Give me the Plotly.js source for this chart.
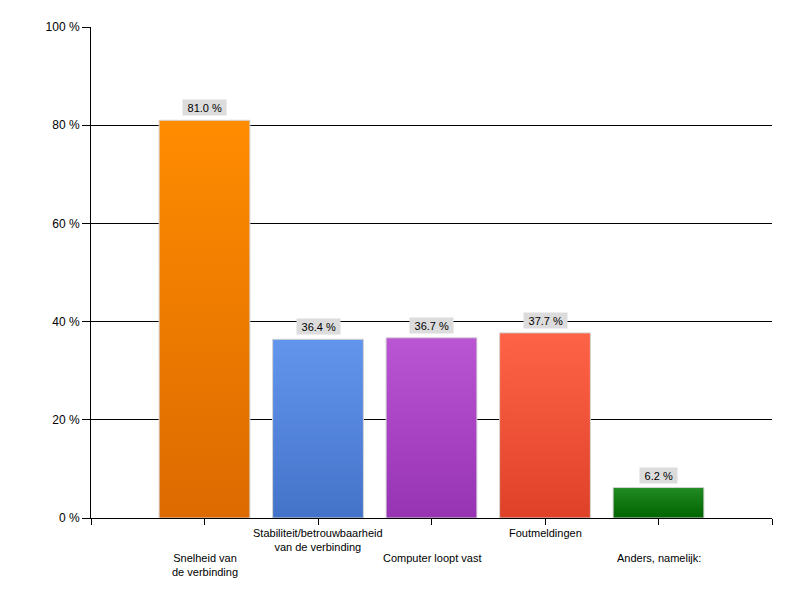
<!DOCTYPE html>
<html>
<head>
<meta charset="utf-8">
<script src="https://cdn.plot.ly/plotly-3.0.1.min.js"></script>
<style>html,body{margin:0;padding:0;background:#fff;}#chart{width:800px;height:600px;}</style>
</head>
<body>
<div id="chart"></div>
<script>
const categories = ["Snelheid van<br>de verbinding", "Stabiliteit/betrouwbaarheid<br>van de verbinding", "Computer loopt vast", "Foutmeldingen", "Anders, namelijk:"];
const values = [81.0, 36.4, 36.7, 37.7, 6.2];
const colorsTop = ["#FF8C00", "#6495ED", "#BA55D3", "#FF6347", "#228B22"];
const colorsBottom = ["#DC6A00", "#4373C9", "#9734B4", "#DE4128", "#006400"];
const yTicks = [0, 20, 40, 60, 80, 100];
const yTickText = ["0 %", "20 %", "40 %", "60 %", "80 %", "100 %"];

const positions = categories.map((c, i) => i + 1);
const font = "Liberation Sans, Arial, sans-serif";

const trace = {
  type: "bar",
  x: positions,
  y: values,
  width: 0.8,
  marker: {
    color: colorsTop,
    line: {color: "#D3D3D3", width: 1}
  },
  hoverinfo: "none"
};

const annotations = [];
values.forEach((v, i) => {
  annotations.push({
    x: positions[i], y: v, xref: "x", yref: "y",
    text: "\u00a0" + v.toFixed(1) + " %\u00a0",
    showarrow: false, yanchor: "bottom", yshift: 4,
    bgcolor: "#DCDCDC", borderpad: 1.5,
    font: {family: font, size: 11, color: "#000"}
  });
});
categories.forEach((c, i) => {
  annotations.push({
    x: positions[i], y: 0, xref: "x", yref: "paper",
    text: c, showarrow: false, yanchor: "top", xanchor: "center",
    yshift: (i % 2 === 0) ? -32 : -7,
    font: {family: font, size: 11, color: "#000"}
  });
});

const layout = {
  width: 800, height: 600,
  margin: {l: 91, r: 28, t: 27, b: 82},
  paper_bgcolor: "#fff", plot_bgcolor: "#fff",
  showlegend: false,
  bargap: 0.2,
  xaxis: {
    range: [0, 6],
    tickvals: [0, 1, 2, 3, 4, 5, 6],
    ticktext: ["", "", "", "", "", "", ""],
    ticks: "outside", ticklen: 6, tickcolor: "#000", tickwidth: 1,
    showline: true, linecolor: "#000", linewidth: 1,
    showgrid: false, zeroline: false, fixedrange: true
  },
  yaxis: {
    range: [0, 100],
    tickvals: yTicks, ticktext: yTickText,
    ticks: "outside", ticklen: 8, tickcolor: "#000", tickwidth: 1,
    showline: true, linecolor: "#000", linewidth: 1,
    showgrid: true, gridcolor: "#000", gridwidth: 1,
    zeroline: false, fixedrange: true,
    tickfont: {family: font, size: 12, color: "#000"}
  },
  annotations: annotations
};

const gd = document.getElementById("chart");

function applyGradients() {
  const svg = gd.querySelector("svg.main-svg");
  if (!svg) return;
  const ns = "http://www.w3.org/2000/svg";
  let defs = svg.querySelector("defs");
  if (!defs) { defs = document.createElementNS(ns, "defs"); svg.insertBefore(defs, svg.firstChild); }
  colorsTop.forEach((top, i) => {
    const id = "bargrad" + i;
    if (svg.querySelector("#" + id)) return;
    const g = document.createElementNS(ns, "linearGradient");
    g.setAttribute("id", id);
    g.setAttribute("x1", "0"); g.setAttribute("y1", "0");
    g.setAttribute("x2", "0"); g.setAttribute("y2", "1");
    const s1 = document.createElementNS(ns, "stop");
    s1.setAttribute("offset", "0"); s1.setAttribute("stop-color", top);
    const s2 = document.createElementNS(ns, "stop");
    s2.setAttribute("offset", "1"); s2.setAttribute("stop-color", colorsBottom[i]);
    g.appendChild(s1); g.appendChild(s2);
    defs.appendChild(g);
  });
  gd.querySelectorAll(".barlayer .point path").forEach((p, i) => {
    p.style.fill = "url(#bargrad" + i + ")";
  });
}

Plotly.newPlot(gd, [trace], layout, {displayModeBar: false, staticPlot: true}).then(applyGradients);
</script>
</body>
</html>
